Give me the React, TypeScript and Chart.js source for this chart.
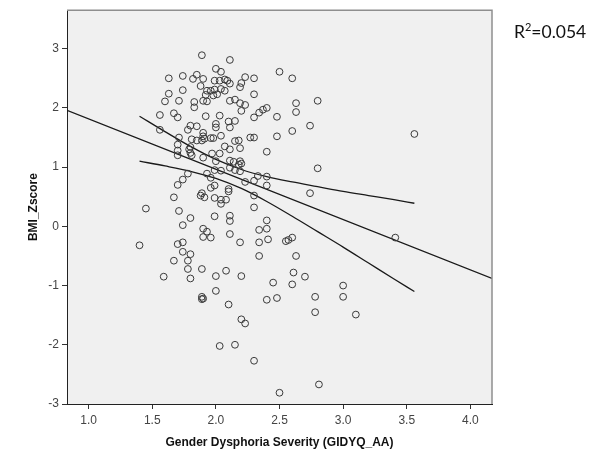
import React, { useEffect, useRef } from "react";
import { Chart, registerables } from "chart.js";

Chart.register(...registerables);

// Gender Dysphoria Severity (GIDYQ_AA) values of each case
const severity = [
  1.89, 2.11, 2.00, 2.04, 2.50, 2.60, 1.63, 1.74, 1.85, 1.82, 1.90, 1.99, 2.03, 2.07, 2.09, 2.11, 2.23, 2.30, 2.20, 2.19,
  1.88, 1.74, 1.93, 1.96, 1.99, 2.04, 2.07, 1.63, 1.92, 1.98, 2.01, 2.30, 1.60, 1.71, 1.83, 1.83, 1.90, 1.93, 2.11, 2.15,
  2.19, 2.23, 2.20, 2.34, 2.37, 2.40, 2.30, 2.63, 2.63, 1.56, 1.67, 1.70, 1.92, 2.03, 2.10, 2.15, 2.11, 2.00, 2.00, 2.48,
  2.60, 2.48, 2.27, 2.30, 1.56, 1.78, 1.80, 1.85, 1.90, 1.90, 1.81, 1.85, 1.89, 1.91, 1.96, 1.98, 2.04, 1.71, 1.70, 1.70,
  1.70, 1.80, 1.80, 1.81, 1.79, 1.90, 2.07, 2.11, 2.15, 2.18, 2.19, 2.40, 1.97, 2.03, 2.11, 2.14, 2.19, 2.20, 2.18, 2.00,
  1.99, 2.04, 2.11, 2.15, 2.19, 1.78, 1.93, 1.74, 1.70, 1.96, 2.23, 2.33, 2.30, 2.40, 2.40, 1.99, 1.96, 2.10, 2.10, 1.89,
  1.88, 1.91, 2.30, 1.67, 1.99, 2.04, 2.08, 2.04, 1.71, 2.30, 1.45, 1.80, 1.99, 2.11, 2.11, 2.40, 1.74, 1.90, 2.34, 2.40,
  2.80, 2.74, 3.56, 2.80, 2.74, 3.41, 2.60, 2.63, 2.61, 2.70, 2.60, 3.00, 3.00, 2.78, 2.78, 3.10, 2.81,
  1.40, 1.90, 1.93, 1.96, 2.11, 2.19, 2.34, 2.41, 2.55, 2.57, 2.34, 1.74, 1.70, 1.74, 1.80, 1.67, 1.78, 1.78, 1.80, 1.59,
  1.89, 2.00, 2.08, 2.20, 2.45, 2.00, 1.89, 1.90, 1.89, 2.10, 2.40, 2.48, 2.20, 2.23, 2.03, 2.15, 2.30, 2.50,
];

// BMI z-score of each case
const bmiZ = [
  2.89, 2.81, 2.66, 2.61, 2.61, 2.50, 2.50, 2.54, 2.56, 2.49, 2.49, 2.46, 2.46, 2.48, 2.46, 2.41, 2.52, 2.50, 2.42, 2.35,
  2.37, 2.30, 2.29, 2.29, 2.31, 2.32, 2.29, 2.24, 2.22, 2.21, 2.23, 2.23, 2.11, 2.12, 2.10, 2.01, 2.12, 2.11, 2.12, 2.14,
  2.08, 2.05, 1.95, 1.92, 1.97, 2.00, 1.84, 2.08, 1.93, 1.88, 1.91, 1.84, 1.86, 1.87, 1.77, 1.78, 1.67, 1.73, 1.67, 1.85,
  1.61, 1.52, 1.50, 1.50, 1.63, 1.63, 1.70, 1.69, 1.58, 1.52, 1.47, 1.45, 1.45, 1.48, 1.49, 1.49, 1.53, 1.50, 1.38, 1.28,
  1.20, 1.34, 1.24, 1.20, 1.30, 1.16, 1.35, 1.30, 1.44, 1.45, 1.32, 1.26, 1.23, 1.23, 1.11, 1.09, 1.10, 1.06, 1.04, 1.10,
  0.95, 0.94, 0.99, 0.95, 0.93, 0.89, 0.89, 0.79, 0.70, 0.82, 0.75, 0.85, 0.77, 0.84, 0.69, 0.69, 0.65, 0.63, 0.59, 0.56,
  0.52, 0.49, 0.52, 0.49, 0.48, 0.45, 0.45, 0.38, 0.26, 0.32, 0.30, 0.14, 0.17, 0.18, 0.09, 0.10, 0.02, -0.04, -0.06, -0.04,
  2.12, 1.70, 1.56, 0.98, 0.56, -0.19, -0.19, -0.50, -0.78, -0.85, -0.98, -1.00, -1.19, -1.19, -1.45, -1.49, -2.67,
  -0.32, -0.18, -0.09, -0.19, -0.13, -0.27, -0.27, -0.22, -0.25, -0.23, -0.50, -0.27, -0.30, -0.43, -0.47, -0.58, -0.58, -0.72, -0.88, -0.85,
  -0.72, -0.84, -0.75, -0.84, -0.95, -1.09, -1.19, -1.22, -1.23, -1.32, -1.24, -1.21, -1.57, -1.64, -2.02, -2.00, -2.27, -2.81,
];

// Linear fit line (end points at the plot edges)
const fitX = [0.83, 4.17];
const fitY = [1.96, -0.88];

// 95% confidence band of the mean
const bandX = [1.4, 1.6, 1.8, 2.0, 2.2, 2.4, 2.6, 2.8, 3.0, 3.2, 3.4, 3.56];
const bandUpper = [1.86, 1.6, 1.35, 1.13, 0.96, 0.84, 0.75, 0.67, 0.59, 0.52, 0.45, 0.39];
const bandLower = [1.1, 1.02, 0.93, 0.81, 0.64, 0.42, 0.17, -0.09, -0.35, -0.62, -0.89, -1.1];

const xTicks = [1.0, 1.5, 2.0, 2.5, 3.0, 3.5, 4.0];
const yTicks = [-3, -2, -1, 0, 1, 2, 3];
const xRange = [0.83, 4.17];
const yRange = [-3, 3.65];

const xTitle = "Gender Dysphoria Severity (GIDYQ_AA)";
const yTitle = "BMI_Zscore";
const rSquared = "0.054";

const FONT = "'Liberation Sans', Arial, sans-serif";

const framePlugin = {
  id: "spssFrame",
  beforeDraw(chart: any) {
    const { ctx, chartArea: a } = chart;
    ctx.save();
    ctx.fillStyle = "#f0f0f0";
    ctx.fillRect(a.left, a.top, a.right - a.left, a.bottom - a.top);
    ctx.restore();
  },
  afterDraw(chart: any) {
    const { ctx, chartArea: a } = chart;
    ctx.save();
    ctx.strokeStyle = "#8e8e8e";
    ctx.lineWidth = 1.5;
    ctx.beginPath();
    ctx.moveTo(a.left, a.top);
    ctx.lineTo(a.right, a.top);
    ctx.lineTo(a.right, a.bottom);
    ctx.stroke();
    ctx.restore();
  },
};

export default function App() {
  const ref = useRef<HTMLCanvasElement | null>(null);

  useEffect(() => {
    if (!ref.current) return;
    const points = severity.map((x, i) => ({ x, y: bmiZ[i] }));
    const fit = fitX.map((x, i) => ({ x, y: fitY[i] }));
    const upper = bandX.map((x, i) => ({ x, y: bandUpper[i] }));
    const lower = bandX.map((x, i) => ({ x, y: bandLower[i] }));

    const lineStyle = {
      type: "line" as const,
      showLine: true,
      pointRadius: 0,
      borderColor: "#1a1a1a",
      borderWidth: 1.3,
      fill: false,
      cubicInterpolationMode: "monotone" as const,
    };

    const chart = new Chart(ref.current, {
      type: "scatter",
      data: {
        datasets: [
          {
            data: points,
            pointRadius: 3.4,
            pointBorderWidth: 1,
            pointBorderColor: "#3a3a3a",
            pointBackgroundColor: "rgba(0,0,0,0)",
            pointStyle: "circle",
          },
          { ...lineStyle, data: fit },
          { ...lineStyle, data: upper },
          { ...lineStyle, data: lower },
        ] as any,
      },
      options: {
        animation: false,
        responsive: false,
        layout: { padding: { left: 0, top: 8, right: 101, bottom: 0 } },
        plugins: { legend: { display: false }, tooltip: { enabled: false } },
        scales: {
          x: {
            type: "linear",
            min: xRange[0],
            max: xRange[1],
            afterBuildTicks: (s: any) => {
              s.ticks = xTicks.map((v) => ({ value: v }));
            },
            afterFit: (s: any) => {
              s.height = 52;
            },
            grid: { drawOnChartArea: false, drawTicks: true, tickLength: 5, tickColor: "#333", tickWidth: 1 },
            border: { color: "#222", width: 1 },
            ticks: {
              padding: 4,
              color: "#444",
              font: { family: FONT, size: 12 },
              callback: (v: any) => Number(v).toFixed(1),
              maxRotation: 0,
            },
            title: {
              display: true,
              text: xTitle,
              color: "#111",
              font: { family: FONT, size: 12, weight: "bold" },
              padding: { top: 0, bottom: 6 },
            },
          },
          y: {
            type: "linear",
            min: yRange[0],
            max: yRange[1],
            afterBuildTicks: (s: any) => {
              s.ticks = yTicks.map((v) => ({ value: v }));
            },
            afterFit: (s: any) => {
              s.width = 67;
            },
            grid: { drawOnChartArea: false, drawTicks: true, tickLength: 5, tickColor: "#333", tickWidth: 1 },
            border: { color: "#222", width: 1 },
            ticks: {
              padding: 3,
              color: "#444",
              font: { family: FONT, size: 12 },
              callback: (v: any) => String(v),
            },
            title: {
              display: true,
              text: yTitle,
              color: "#111",
              font: { family: FONT, size: 12, weight: "bold" },
              padding: { top: 26, bottom: 0 },
            },
          },
        },
      },
      plugins: [framePlugin],
    });
    return () => chart.destroy();
  }, []);

  return (
    <div style={{ position: "absolute", left: 0, top: 0, width: 593, height: 456, background: "#fff" }}>
      <canvas ref={ref} width={593} height={456} style={{ display: "block" }} />
      <div
        style={{
          position: "absolute",
          left: 514,
          top: 23,
          fontFamily: "Lato, 'Open Sans', sans-serif",
          fontSize: 17.5,
          lineHeight: "18px",
          color: "#111",
          whiteSpace: "nowrap",
        }}
      >
        R<span style={{ position: "relative", top: -7, fontSize: 11 }}>2</span>={rSquared}
      </div>
    </div>
  );
}
